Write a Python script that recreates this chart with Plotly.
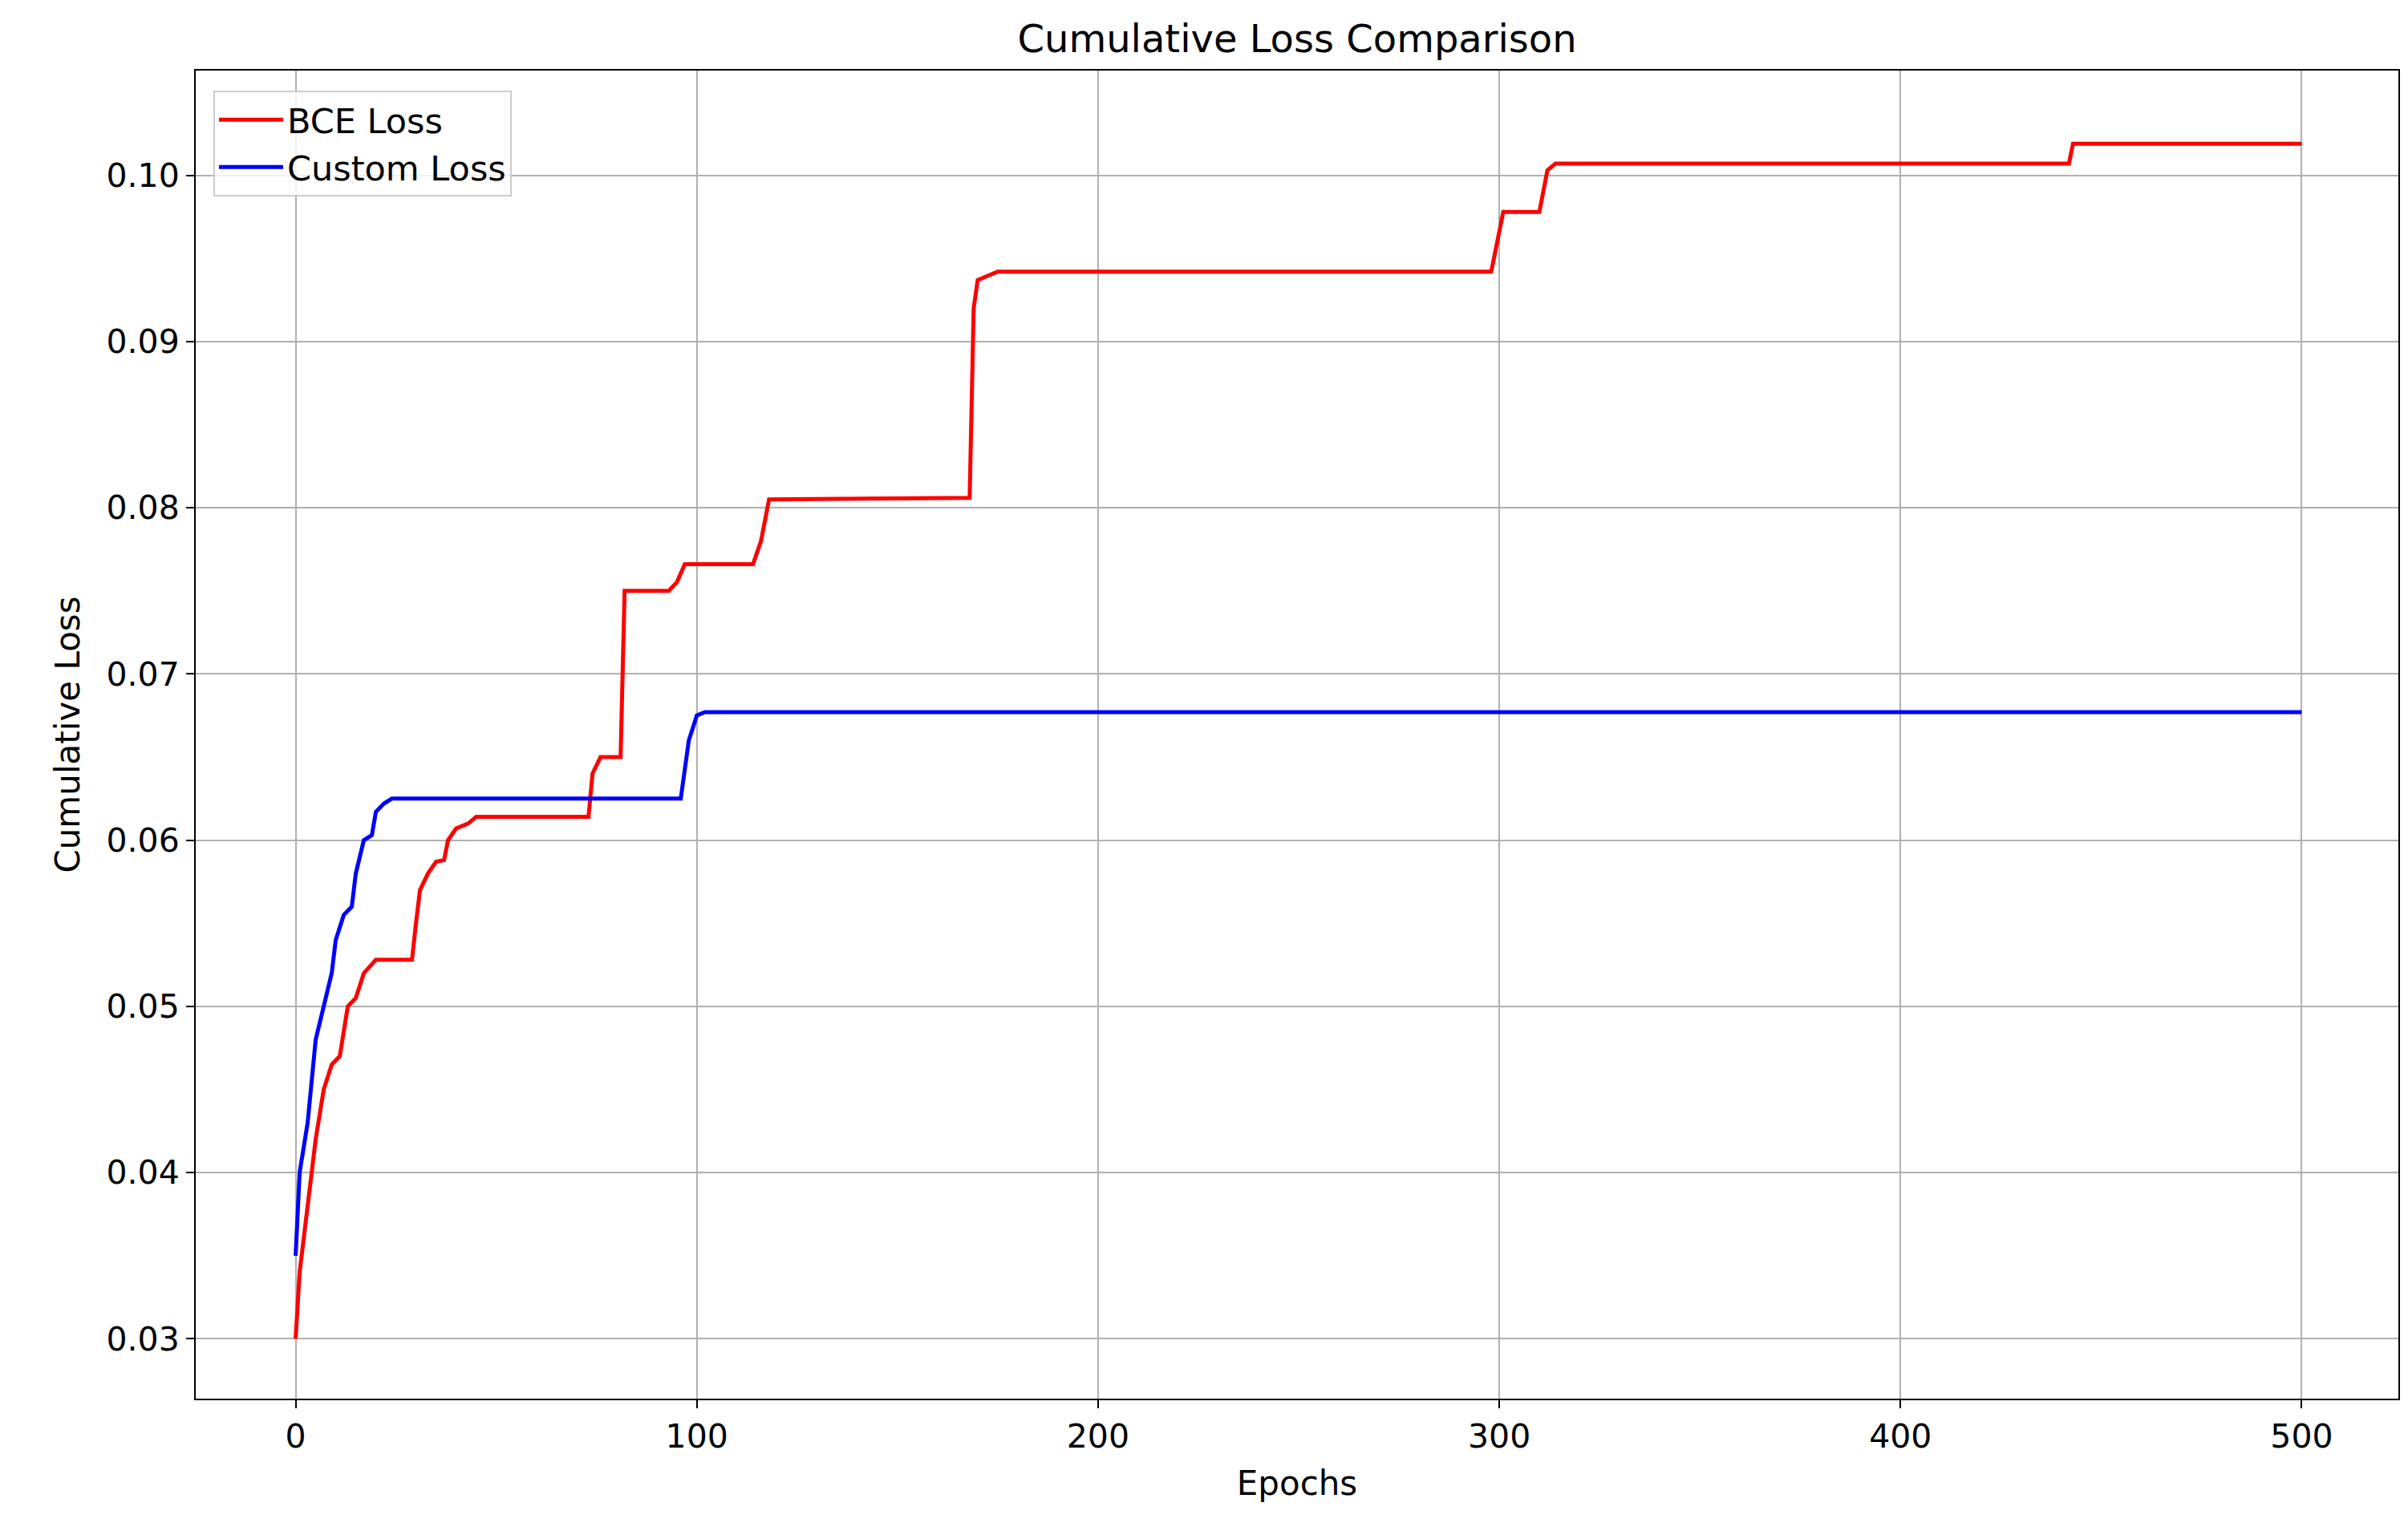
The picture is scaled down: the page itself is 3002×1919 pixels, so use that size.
import plotly.graph_objects as go

bce_epochs = [0, 1, 3, 5, 7, 9, 11, 13, 15, 17, 20, 29, 30, 31, 33, 35, 37, 38, 40, 43, 45,
              73, 74, 76, 81, 82, 93, 95, 97, 114, 116, 118, 168, 169, 170, 173, 175,
              298, 299, 301, 310, 312, 314, 442, 443, 500]
bce_loss = [0.030, 0.034, 0.038, 0.042, 0.045, 0.0465, 0.047, 0.050, 0.0505, 0.052, 0.0528,
            0.0528, 0.055, 0.057, 0.058, 0.0587, 0.0588, 0.060, 0.0607, 0.061, 0.0614,
            0.0614, 0.064, 0.065, 0.065, 0.075, 0.075, 0.0755, 0.0766, 0.0766, 0.078, 0.0805,
            0.0806, 0.092, 0.0937, 0.0940, 0.0942, 0.0942, 0.0955, 0.0978, 0.0978, 0.1003,
            0.1007, 0.1007, 0.1019, 0.1019]

custom_epochs = [0, 1, 3, 5, 7, 9, 10, 12, 14, 15, 17, 19, 20, 22, 24, 96, 98, 100, 102, 500]
custom_loss = [0.035, 0.040, 0.043, 0.048, 0.050, 0.052, 0.054, 0.0555, 0.056, 0.058, 0.060,
               0.0603, 0.0617, 0.0622, 0.0625, 0.0625, 0.066, 0.0675, 0.0677, 0.0677]

fig = go.Figure()
fig.add_trace(go.Scatter(x=bce_epochs, y=bce_loss, mode="lines", name="BCE Loss",
                         line=dict(color="red", width=5)))
fig.add_trace(go.Scatter(x=custom_epochs, y=custom_loss, mode="lines", name="Custom Loss",
                         line=dict(color="blue", width=5)))

axis = dict(showline=True, linecolor="black", linewidth=2, mirror=True,
            showgrid=True, gridcolor="#b0b0b0", gridwidth=2, zeroline=False,
            ticks="outside", ticklen=10, tickwidth=2, tickcolor="black",
            tickfont=dict(size=41, color="black"))

fig.update_layout(
    width=3002, height=1919,
    paper_bgcolor="white", plot_bgcolor="white",
    font=dict(family="DejaVu Sans", color="black"),
    title=dict(text="Cumulative Loss Comparison", x=0.536, xanchor="center",
               y=0.988, yanchor="top", font=dict(size=48)),
    margin=dict(l=236, r=20, t=80, b=183),
    xaxis=dict(axis, range=[-24.9, 524.1], tickvals=[0, 100, 200, 300, 400, 500],
               title=dict(text="Epochs", font=dict(size=42), standoff=20)),
    yaxis=dict(axis, range=[0.0264, 0.1063],
               tickvals=[0.03, 0.04, 0.05, 0.06, 0.07, 0.08, 0.09, 0.10],
               ticktext=["0.03", "0.04", "0.05", "0.06", "0.07", "0.08", "0.09", "0.10"],
               title=dict(text="Cumulative Loss", font=dict(size=42), standoff=20)),
    legend=dict(x=0.008, y=0.985, xanchor="left", yanchor="top", itemwidth=80,
                bgcolor="rgba(255,255,255,0.8)", bordercolor="#cccccc", borderwidth=2,
                font=dict(size=43)),
)

fig.write_html("out.html")
